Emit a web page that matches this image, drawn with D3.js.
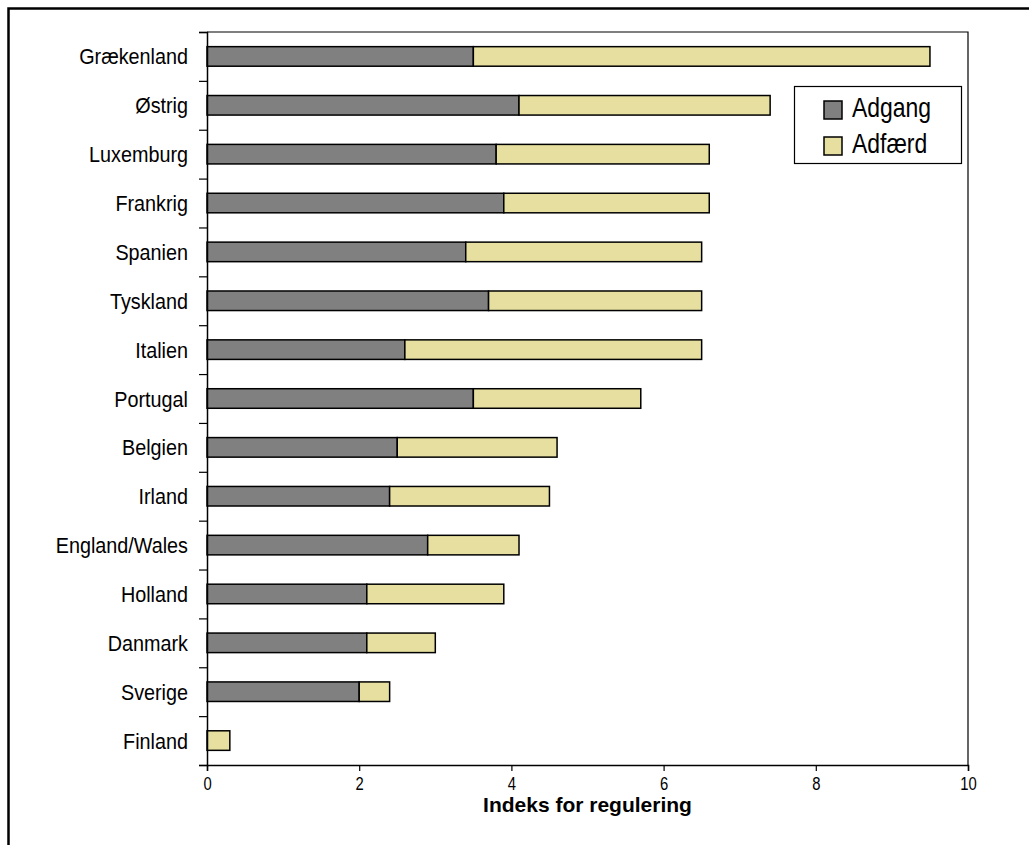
<!DOCTYPE html>
<html>
<head>
<meta charset="utf-8">
<script src="https://cdn.jsdelivr.net/npm/d3@7"></script>
<style>
  html, body { margin: 0; padding: 0; background: #fff; }
  svg { display: block; font-family: "Liberation Sans", Arial, sans-serif; }
</style>
</head>
<body>
<svg id="chart" width="1029" height="845"></svg>
<script>
// Regulation index per country, split into access (Adgang) and conduct (Adfærd)
const countries = ["Grækenland", "Østrig", "Luxemburg", "Frankrig", "Spanien", "Tyskland", "Italien",
  "Portugal", "Belgien", "Irland", "England/Wales", "Holland", "Danmark", "Sverige", "Finland"];
const adgang = [3.5, 4.1, 3.8, 3.9, 3.4, 3.7, 2.6, 3.5, 2.5, 2.4, 2.9, 2.1, 2.1, 2.0, 0.0];
const adfaerd = [6.0, 3.3, 2.8, 2.7, 3.1, 2.8, 3.9, 2.2, 2.1, 2.1, 1.2, 1.8, 0.9, 0.4, 0.3];
const seriesNames = ["Adgang", "Adfærd"];
const seriesColors = ["#808080", "#E6DF9F"];
const xTicks = [0, 2, 4, 6, 8, 10];
const xTitle = "Indeks for regulering";

const svg = d3.select("#chart");
const plot = { left: 207, right: 968, top: 32, bottom: 765 };

// Outer frame (open to the right and bottom edges of the page)
svg.append("path")
  .attr("d", "M8.5,846 L8.5,8.5 L1030,8.5")
  .attr("fill", "none").attr("stroke", "#000").attr("stroke-width", 2.5);

const x = d3.scaleLinear().domain([0, 10]).range([plot.left, plot.right]);
const y = d3.scaleBand().domain(countries).range([plot.top, plot.bottom])
  .paddingInner(0.6).paddingOuter(0.3);
const yEdges = d3.scaleLinear().domain([0, countries.length]).range([plot.top, plot.bottom]);

// Plot area top and right border
svg.append("path")
  .attr("d", `M${plot.left},${plot.top} L${plot.right},${plot.top} L${plot.right},${plot.bottom}`)
  .attr("fill", "none").attr("stroke", "#000").attr("stroke-width", 1.2);

// Stacked bars
const rows = countries.map((c, i) => ({ country: c, Adgang: adgang[i], "Adfærd": adfaerd[i] }));
const stacked = d3.stack().keys(seriesNames)(rows);
stacked.forEach((layer, k) => {
  svg.append("g").selectAll("rect")
    .data(layer.filter(d => d[1] - d[0] > 0))
    .join("rect")
    .attr("x", d => x(d[0]))
    .attr("y", d => y(d.data.country))
    .attr("width", d => x(d[1]) - x(d[0]))
    .attr("height", y.bandwidth())
    .attr("fill", seriesColors[k])
    .attr("stroke", "#000").attr("stroke-width", 1.5);
});

// Left axis: tick marks on category boundaries
const yAxisG = svg.append("g").attr("transform", `translate(${plot.left},0)`)
  .call(d3.axisLeft(yEdges).tickValues(d3.range(0, countries.length + 1)).tickFormat("").tickSize(8));
yAxisG.select(".domain").attr("stroke", "#000").attr("stroke-width", 1.5);
yAxisG.selectAll(".tick line").attr("stroke", "#000").attr("stroke-width", 1.2);

// Category labels
const catAxisG = svg.append("g").attr("transform", `translate(${plot.left},0)`)
  .call(d3.axisLeft(y).tickSize(0).tickPadding(0));
catAxisG.select(".domain").remove();
catAxisG.selectAll(".tick text")
  .attr("x", 0).attr("dy", null).attr("y", 8)
  .attr("transform", "translate(-19,0) scale(0.9,1)")
  .attr("font-size", 22).attr("fill", "#000")
  .style("font-family", "'Liberation Sans', Arial, sans-serif");

// Bottom axis
const xAxisG = svg.append("g").attr("transform", `translate(0,${plot.bottom})`)
  .call(d3.axisBottom(x).tickValues(xTicks).tickFormat(d3.format("d")).tickSize(6).tickPadding(0));
xAxisG.select(".domain").attr("stroke", "#000").attr("stroke-width", 1.5);
xAxisG.selectAll(".tick line").attr("stroke", "#000").attr("stroke-width", 1.2);
xAxisG.selectAll(".tick text")
  .attr("y", 0).attr("dy", null)
  .attr("transform", "translate(0,25) scale(0.78,1)")
  .attr("font-size", 19).attr("fill", "#000")
  .style("font-family", "'Liberation Sans', Arial, sans-serif");

// Axis title
svg.append("text")
  .attr("x", (plot.left + plot.right) / 2).attr("y", plot.bottom + 47)
  .attr("text-anchor", "middle")
  .attr("font-size", 21).attr("font-weight", "bold").attr("fill", "#000")
  .text(xTitle);

// Legend
const legend = svg.append("g");
legend.append("rect")
  .attr("x", 794.5).attr("y", 86.5).attr("width", 167).attr("height", 77)
  .attr("fill", "#fff").attr("stroke", "#000").attr("stroke-width", 1.2);
seriesNames.forEach((name, i) => {
  const yy = 101 + i * 36;
  legend.append("rect")
    .attr("x", 824).attr("y", yy).attr("width", 18).attr("height", 18)
    .attr("fill", seriesColors[i]).attr("stroke", "#000").attr("stroke-width", 1.5);
  legend.append("text")
    .attr("transform", `translate(852,${yy + 16}) scale(0.82,1)`)
    .attr("font-size", 28).attr("fill", "#000")
    .text(name);
});
</script>
</body>
</html>
